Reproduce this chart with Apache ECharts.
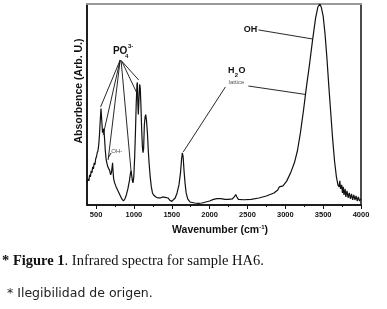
<!DOCTYPE html>
<html>
<head>
<meta charset="utf-8">
<script src="https://cdn.jsdelivr.net/npm/echarts@6/dist/echarts.min.js"></script>
<style>
  html, body { margin: 0; padding: 0; background: #fff; }
  #chart { width: 387px; height: 309px; }
</style>
</head>
<body>
<div id="chart"></div>
<script>
// spectrum (absorbance in arbitrary units, 0..100)
let wavenumbers = [380,395,405,415,425,435,445,455,465,475,485,495,505,515,525,535,545,555,565,575,585,595,603,612,622,632,642,655,668,680,692,702,712,718,724,732,745,765,790,815,840,862,880,900,920,940,955,962,970,980,988,998,1010,1020,1030,1040,1046,1052,1058,1066,1076,1084,1092,1102,1112,1120,1128,1138,1148,1156,1166,1178,1190,1200,1215,1230,1245,1260,1290,1320,1350,1380,1395,1410,1430,1450,1470,1500,1520,1545,1570,1595,1615,1630,1640,1650,1662,1675,1690,1710,1740,1800,1850,1900,1950,2000,2050,2100,2150,2200,2250,2300,2325,2345,2360,2380,2450,2550,2650,2750,2850,2900,2920,2940,2970,3020,3070,3120,3160,3200,3240,3280,3320,3360,3400,3430,3455,3475,3500,3525,3550,3575,3600,3625,3650,3675,3695,3710,3720,3730,3745,3755,3765,3775,3790,3800,3815,3830,3845,3860,3875,3890,3905,3920,3935,3950,3965,3980,4000];
let absorbance = [11,13,12,15,14,17,16,19,18,21,20,23,24,26,27,30,35,42,48,42,36,37,38,33,27,23,21,19,18,17,15,16,19,21,17,13,11,9,7,5,3,2,3,5,8,12,16,17,15,12,11,14,24,36,50,60,61,50,45,52,60,58,50,38,29,26,28,40,44,45,42,36,27,21,14,9,6,5,4,3.5,3.5,4,4.5,3.8,4,3.5,2.5,1.8,2,3.5,6,10,16,23,26,24,17,11,6,3,1.5,1,0.8,1,1.5,2,2.8,3.2,3.2,2.8,2.8,3,4,5.2,4,2.8,2.6,2.8,3.5,4.5,6,7.5,9,8.5,9.5,12,16,21,27,36,47,59,70,82,93,98.5,100,98.5,94,85,73,59,46,33,22,14,10,9,12,8,10,6,9,5,8,4,7,3.5,6,3,5.5,2.5,5,2.5,4.5,2,4,2,3];

let majorTicks = [500,1000,1500,2000,2500,3000,3500,4000];
let minorTicks = [750,1250,1750,2250,2750,3250,3750];

// annotation labels: [text, wavenumber, absorbance, style]
let labels = [
  ['PO', 818, 76.6, 'big'],
  ['4', 904, 74.0, 'tiny'],
  ['3-', 957, 78.8, 'tiny'],
  ['OH', 2539, 87.4, 'mid'],
  ['-', 2626, 89.0, 'tiny'],
  ['H', 2287, 66.8, 'mid'],
  ['2', 2353, 64.5, 'tiny'],
  ['O', 2429, 66.8, 'mid'],
  ['lattice', 2354, 61.0, 'note'],
  ['OH-', 774, 26.5, 'note']
];
// annotation pointer lines: [x1, y1, x2, y2]
let pointers = [
  [818, 72.1, 560, 48.8],
  [818, 72.1, 593, 34.8],
  [818, 72.1, 659, 22.4],
  [830, 72.1, 963, 16.4],
  [840, 71.5, 1035, 56.0],
  [840, 71.5, 1063, 62.2],
  [2208, 58.7, 1652, 26.4],
  [2512, 59.2, 3267, 55.0],
  [2645, 87.1, 3360, 82.6],
  [699, 25.9, 662, 23.6]
];

let labelStyles = {
  big: { fontSize: 10, fontWeight: 'bold', color: '#111' },
  mid: { fontSize: 9, fontWeight: 'bold', color: '#111' },
  tiny: { fontSize: 6, fontWeight: 'bold', color: '#111' },
  note: { fontSize: 6, fontWeight: 'normal', color: '#555' }
};

let chart = echarts.init(document.getElementById('chart'));

let option = {
  animation: false,
  textStyle: { fontFamily: 'Liberation Sans' },
  grid: {
    left: 87, right: 26, top: 4, bottom: 104,
    show: true, borderColor: '#111', borderWidth: 1.5
  },
  xAxis: [
    {
      type: 'value', min: 380, max: 4000, position: 'bottom',
      axisLine: { show: true, lineStyle: { color: '#111', width: 1.5 } },
      axisTick: { customValues: majorTicks, length: 4, lineStyle: { color: '#111', width: 1 } },
      axisLabel: {
        customValues: majorTicks, fontSize: 7.5, fontWeight: 'bold', color: '#111', margin: 6,
        fontFamily: 'Liberation Sans Narrow, Liberation Sans',
        formatter: v => String(v)
      },
      splitLine: { show: false },
      name: 'Wavenumber (cm{s|-1})',
      nameLocation: 'middle',
      nameGap: 18,
      nameTextStyle: {
        fontSize: 10.5, fontWeight: 'bold', color: '#111', padding: [0, 8, 0, 0],
        rich: { s: { fontSize: 6, fontWeight: 'bold', color: '#111', padding: [0, 0, 7, 0] } }
      }
    },
    {
      type: 'value', min: 380, max: 4000, position: 'bottom',
      axisLine: { show: false },
      axisTick: { customValues: minorTicks, length: 2, lineStyle: { color: '#111', width: 1 } },
      axisLabel: { show: false },
      splitLine: { show: false }
    },
    {
      type: 'value', min: 380, max: 4000, position: 'top',
      axisLine: { show: true, lineStyle: { color: '#999', width: 2 } },
      axisTick: { show: false },
      axisLabel: { show: false },
      splitLine: { show: false }
    }
  ],
  yAxis: {
    type: 'value', min: 0, max: 100,
    axisLine: { show: true, lineStyle: { color: '#111', width: 1.5 } },
    axisTick: { show: false },
    axisLabel: { show: false },
    splitLine: { show: false }
  },
  series: [
    {
      type: 'line',
      xAxisIndex: 0,
      data: wavenumbers.map((w, i) => [w, absorbance[i]]),
      showSymbol: false,
      lineStyle: { color: '#111', width: 1.2 },
      markLine: {
        silent: true,
        symbol: ['none', 'none'],
        lineStyle: { color: '#111', width: 0.9, type: 'solid' },
        label: { show: false },
        data: pointers.map(p => [{ coord: [p[0], p[1]] }, { coord: [p[2], p[3]] }])
      },
      markPoint: {
        silent: true,
        symbol: 'circle',
        symbolSize: 1,
        itemStyle: { color: 'transparent' },
        data: labels.map(l => ({
          coord: [l[1], l[2]],
          label: Object.assign({ show: true, position: 'inside', formatter: l[0] }, labelStyles[l[3]])
        }))
      }
    }
  ],
  graphic: [
    {
      type: 'text', x: 79, y: 91, rotation: Math.PI / 2,
      style: {
        text: 'Absorbence (Arb. U.)', fontSize: 10.5, fontWeight: 'bold',
        fontFamily: 'Liberation Sans', fill: '#111', align: 'center', verticalAlign: 'middle'
      }
    },
    {
      type: 'text', x: 2, y: 261,
      style: {
        text: '{b|* Figure 1}. Infrared spectra for sample HA6.',
        fontSize: 14.5, fontFamily: 'Liberation Serif', fill: '#111', verticalAlign: 'middle',
        rich: { b: { fontSize: 14.5, fontWeight: 'bold', fontFamily: 'Liberation Serif', fill: '#111' } }
      }
    },
    {
      type: 'text', x: 7, y: 294,
      style: {
        text: '* Ilegibilidad de origen.',
        fontSize: 12.5, fontFamily: 'DejaVu Sans', fill: '#222', verticalAlign: 'middle'
      }
    }
  ]
};

chart.setOption(option);
</script>
</body>
</html>
